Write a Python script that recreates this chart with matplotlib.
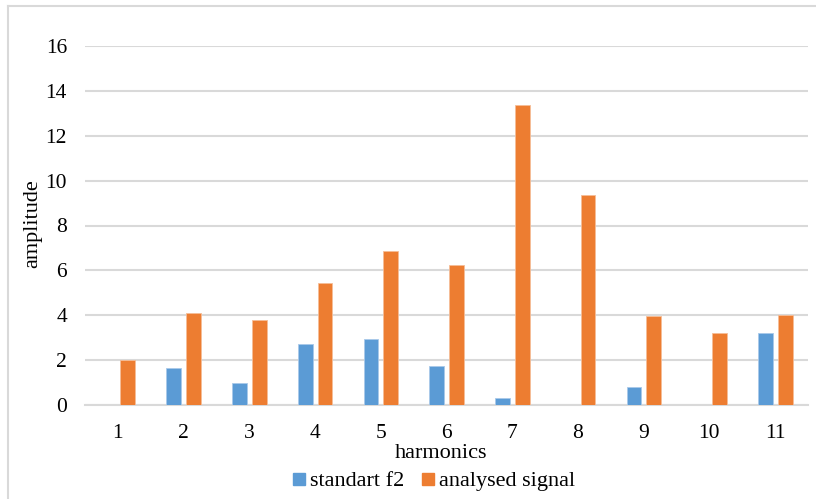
import numpy as np
import matplotlib
matplotlib.use('Agg')
import matplotlib.pyplot as plt
from matplotlib.lines import Line2D

plt.rcParams['font.family'] = ['Liberation Serif', 'DejaVu Serif']

harmonics = ['1', '2', '3', '4', '5', '6', '7', '8', '9', '10', '11']
standart_f2 = [0, 1.64, 1.0, 2.71, 2.96, 1.73, 0.31, 0, 0.79, 0, 3.23]
analysed_signal = [2.0, 4.12, 3.78, 5.42, 6.86, 6.22, 13.38, 9.35, 3.96, 3.19, 4.0]

W, H = 816, 499
fig = plt.figure(figsize=(W / 100, H / 100), dpi=100)
# plot area in pixels: left 85, right 808, top 46, bottom 405
ax = fig.add_axes([85 / W, 1 - 405 / H, (808 - 85) / W, (405 - 46) / H])

x = np.arange(len(harmonics))
bw = 0.225
ax.bar(x - 0.148, standart_f2, bw, color='#5B9BD5', edgecolor='#A9C9EA',
       linewidth=0.6, label='standart f2', zorder=3)
ax.bar(x + 0.152, analysed_signal, bw, color='#ED7D31', edgecolor='#F6BE98',
       linewidth=0.6, label='analysed signal', zorder=3)

ax.set_xlim(-0.5, len(harmonics) - 0.5)
ax.set_ylim(0, 16)
ax.set_yticks(range(0, 17, 2))
ax.set_xticks(x)
ax.set_xticklabels(harmonics)
ax.yaxis.grid(True, color='#D9D9D9', linewidth=1.5, zorder=0)
ax.set_axisbelow(True)
for s in ['top', 'right', 'left']:
    ax.spines[s].set_visible(False)
ax.spines['bottom'].set_color('#D9D9D9')
ax.spines['bottom'].set_linewidth(1.5)
ax.tick_params(axis='both', length=0, labelsize=15.5, colors='#000000')
ax.tick_params(axis='y', pad=13)
ax.tick_params(axis='x', pad=14)

fig.text(441 / W, 1 - 453 / H, 'harmonics', ha='center', va='center', fontsize=16)
fig.text(33 / W, 1 - 224 / H, 'amplitude', ha='center', va='center',
         rotation=90, fontsize=16)

handles = [Line2D([], [], marker='s', linestyle='', markersize=8,
                  color='#5B9BD5'),
           Line2D([], [], marker='s', linestyle='', markersize=8,
                  color='#ED7D31')]
fig.legend(handles, ['standart f2', 'analysed signal'], loc='center',
           bbox_to_anchor=(434 / W, 1 - 481 / H), ncol=2, frameon=False,
           fontsize=16, handlelength=0.5, handletextpad=0.25, columnspacing=0.8,
           borderpad=0)

# chart border (left and top only visible)
fig.add_artist(Line2D([8 / W, 8 / W], [0, 1 - 6 / H], color='#D9D9D9',
                      linewidth=1.5, transform=fig.transFigure))
fig.add_artist(Line2D([8 / W, 1], [1 - 6 / H, 1 - 6 / H], color='#D9D9D9',
                      linewidth=1.5, transform=fig.transFigure))

fig.savefig('out.png', dpi=100)
